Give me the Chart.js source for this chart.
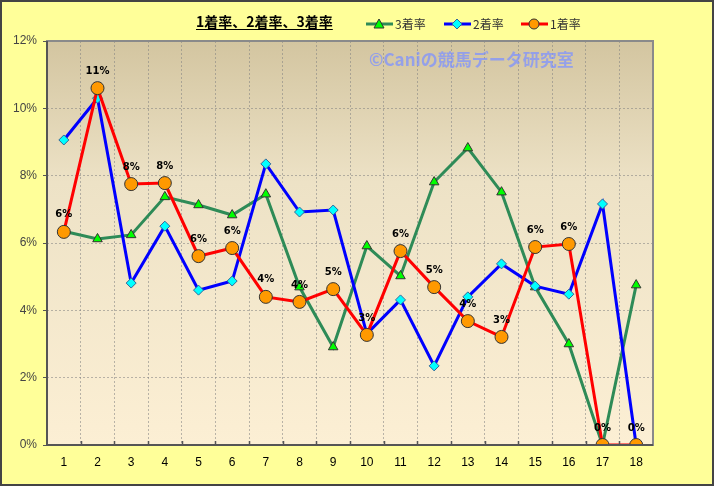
<!DOCTYPE html>
<html>
<head>
<meta charset="utf-8">
<script src="https://cdn.jsdelivr.net/npm/chart.js@4/dist/chart.umd.min.js"></script>
<style>
  html, body { margin: 0; padding: 0; background: #ffff99; }
  #wrap { width: 714px; height: 486px; position: relative; }
</style>
</head>
<body>
<div id="wrap"><canvas id="chart" width="714" height="486"></canvas></div>
<script>
const categories = ["1", "2", "3", "4", "5", "6", "7", "8", "9", "10", "11", "12", "13", "14", "15", "16", "17", "18"];
const yTicks = [0, 2, 4, 6, 8, 10, 12];

const rate1 = [6.33, 10.6, 7.75, 7.78, 5.61, 5.85, 4.40, 4.25, 4.63, 3.27, 5.76, 4.69, 3.68, 3.21, 5.88, 5.97, 0, 0];
const rate2 = [9.06, 10.3, 4.81, 6.5, 4.6, 4.87, 8.35, 6.92, 6.98, 3.3, 4.31, 2.35, 4.4, 5.38, 4.72, 4.48, 7.16, 0];
const rate3 = [6.35, 6.12, 6.24, 7.37, 7.13, 6.83, 7.45, 4.69, 2.91, 5.91, 5.02, 7.81, 8.82, 7.51, 4.69, 3.0, 0, 4.75];

const fontJP = '"Noto Sans CJK JP", "DejaVu Sans", sans-serif';
const col = {
  green: "#2e8b57",
  blue: "#0000ff",
  red: "#ff0000",
  frame: "#555555",
  grid: "rgba(130, 130, 130, 0.55)",
};

// Drawing helpers for the hand-made legend
function marker(ctx, kind, x, y) {
  ctx.save();
  ctx.lineWidth = 1;
  ctx.strokeStyle = "#333";
  ctx.beginPath();
  if (kind === "tri") {
    ctx.fillStyle = "#00ff00";
    ctx.moveTo(x, y - 5); ctx.lineTo(x + 5, y + 4); ctx.lineTo(x - 5, y + 4); ctx.closePath();
  } else if (kind === "dia") {
    ctx.fillStyle = "#00ffff";
    ctx.strokeStyle = "#336699";
    ctx.moveTo(x, y - 5); ctx.lineTo(x + 5, y); ctx.lineTo(x, y + 5); ctx.lineTo(x - 5, y); ctx.closePath();
  } else {
    ctx.fillStyle = "#ff9900";
    ctx.arc(x, y, 5, 0, Math.PI * 2);
  }
  ctx.fill();
  ctx.stroke();
  ctx.restore();
}

const decorations = {
  id: "decorations",
  beforeDraw(chart) {
    const { ctx, chartArea: a } = chart;
    ctx.save();
    ctx.fillStyle = "#ffff99";
    ctx.fillRect(0, 0, chart.width, chart.height);
    const g = ctx.createLinearGradient(0, a.top, 0, a.bottom);
    g.addColorStop(0, "#d3c5a0");
    g.addColorStop(0.35, "#ede2c6");
    g.addColorStop(1, "#fcefd4");
    ctx.fillStyle = g;
    ctx.fillRect(a.left, a.top, a.right - a.left, a.bottom - a.top);
    ctx.restore();
  },
  afterDatasetsDraw(chart) {
    const { ctx, chartArea: a } = chart;
    ctx.save();
    // plot frame
    ctx.strokeStyle = "#8a8a8a";
    ctx.lineWidth = 2;
    ctx.strokeRect(a.left, a.top, a.right - a.left, a.bottom - a.top);
    ctx.strokeStyle = col.frame;
    ctx.beginPath();
    ctx.moveTo(a.left, a.top); ctx.lineTo(a.left, a.bottom); ctx.lineTo(a.right, a.bottom);
    ctx.stroke();
    // small inward ticks on the category axis
    ctx.lineWidth = 1.5;
    const step = (a.right - a.left) / categories.length;
    ctx.beginPath();
    for (let i = 1; i < categories.length; i++) {
      const x = Math.round(a.left + i * step) + 0.5;
      ctx.moveTo(x, a.bottom); ctx.lineTo(x, a.bottom - 4);
    }
    ctx.stroke();

    // data labels for 1着率
    const meta = chart.getDatasetMeta(2);
    ctx.font = "bold 10px 'DejaVu Sans', sans-serif";
    ctx.fillStyle = "#000";
    ctx.textAlign = "center";
    ctx.textBaseline = "middle";
    meta.data.forEach((pt, i) => {
      ctx.fillText(Math.round(rate1[i]) + "%", pt.x, pt.y - 17);
    });

    // watermark
    ctx.font = "bold 17px " + fontJP;
    ctx.fillStyle = "rgba(125, 145, 255, 0.75)";
    ctx.textAlign = "left";
    ctx.fillText("©Caniの競馬データ研究室", 369, 60);

    // title
    ctx.font = "bold 14px " + fontJP;
    ctx.fillStyle = "#000";
    ctx.textAlign = "left";
    ctx.textBaseline = "alphabetic";
    const title = "1着率、2着率、3着率";
    ctx.fillText(title, 196, 27);
    const tw = ctx.measureText(title).width;
    ctx.fillRect(196, 29, tw, 1);

    // legend
    const items = [
      { x: 366, color: col.green, kind: "tri", label: "3着率" },
      { x: 444, color: col.blue, kind: "dia", label: "2着率" },
      { x: 521, color: col.red, kind: "circ", label: "1着率" },
    ];
    ctx.font = "12px " + fontJP;
    ctx.textBaseline = "middle";
    items.forEach((it) => {
      ctx.strokeStyle = it.color;
      ctx.lineWidth = 3;
      ctx.beginPath();
      ctx.moveTo(it.x, 24); ctx.lineTo(it.x + 27, 24);
      ctx.stroke();
      marker(ctx, it.kind, it.x + 13, 24);
      ctx.fillStyle = "#333";
      ctx.fillText(it.label, it.x + 29, 24);
    });

    // outer border
    ctx.strokeStyle = "#444";
    ctx.lineWidth = 2;
    ctx.strokeRect(1, 1, chart.width - 2, chart.height - 2);
    ctx.restore();
  },
};

new Chart(document.getElementById("chart"), {
  type: "line",
  data: {
    labels: categories,
    datasets: [
      {
        label: "3着率",
        data: rate3,
        borderColor: col.green,
        borderWidth: 3,
        pointStyle: "triangle",
        pointRadius: 5.5,
        pointBackgroundColor: "#00ff00",
        pointBorderColor: "#333",
        pointBorderWidth: 1,
        tension: 0,
        order: 2,
      },
      {
        label: "2着率",
        data: rate2,
        borderColor: col.blue,
        borderWidth: 3,
        pointStyle: "rectRot",
        pointRadius: 5,
        pointBackgroundColor: "#00ffff",
        pointBorderColor: "#336699",
        pointBorderWidth: 1,
        tension: 0,
        order: 1,
      },
      {
        label: "1着率",
        data: rate1,
        borderColor: col.red,
        borderWidth: 3,
        pointStyle: "circle",
        pointRadius: 6.5,
        pointBackgroundColor: "#ff9900",
        pointBorderColor: "#333",
        pointBorderWidth: 1,
        tension: 0,
        order: 0,
      },
    ],
  },
  options: {
    responsive: false,
    animation: false,
    layout: { padding: { top: 41, right: 61, bottom: 0, left: 0 } },
    plugins: {
      legend: { display: false },
      title: { display: false },
      tooltip: { enabled: false },
    },
    scales: {
      x: {
        offset: true,
        grid: {
          offset: true,
          color: col.grid,
          lineWidth: 1,
          tickLength: 0,
        },
        border: { display: false, dash: [2, 2] },
        ticks: { color: "#000", font: { size: 12, family: "'Liberation Sans', Arial, sans-serif" }, padding: 10, maxRotation: 0 },
        afterFit: (s) => { s.height = 41; },
      },
      y: {
        min: 0,
        max: 12,
        afterBuildTicks: (s) => { s.ticks = yTicks.map((v) => ({ value: v })); },
        grid: { color: col.grid, tickLength: 4, tickColor: col.frame },
        border: { display: false, dash: [2, 2] },
        ticks: {
          color: "#444",
          font: { size: 12, family: "'Liberation Sans', Arial, sans-serif" },
          padding: 6,
          callback: (v) => v + "%",
        },
        afterFit: (s) => { s.width = 47; },
      },
    },
  },
  plugins: [decorations],
});
</script>
</body>
</html>
